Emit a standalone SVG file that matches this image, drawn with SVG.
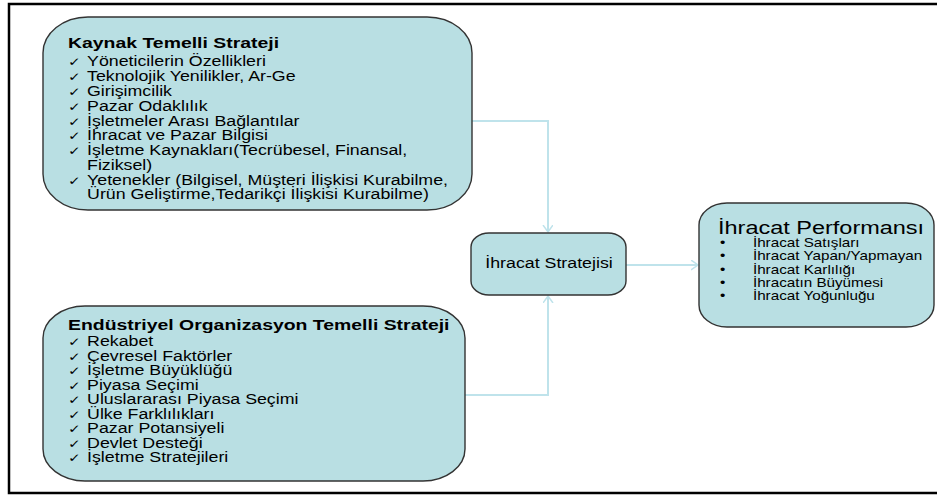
<svg xmlns="http://www.w3.org/2000/svg" width="937" height="495" viewBox="0 0 937 495">
<style>
.box{fill:#b9dfe3;stroke:#333;stroke-width:1.4}
.conn{fill:none;stroke:#bfe3eb;stroke-width:2}
text{font-family:"Liberation Sans","DejaVu Sans",Arial,sans-serif;fill:#000}
.t{font-size:14px}
.b{font-size:15.3px;font-weight:bold}
.ck{font-family:"DejaVu Sans",sans-serif;font-size:12px}
.s{font-size:12px}
.h{font-size:18.5px}
</style>
<defs>
<marker id="ar" markerUnits="userSpaceOnUse" markerWidth="12" markerHeight="12" refX="7" refY="5" orient="auto">
<path d="M0,0 L7,5 L0,10" fill="none" stroke="#bfe3eb" stroke-width="1.5"/>
</marker>
</defs>
<rect width="937" height="495" fill="#fff"/>
<path d="M945 4 H9 V493 H945" fill="none" stroke="#000" stroke-width="2.5"/>
<g id="connectors">
<path class="conn" d="M472 121 H548 V232" marker-end="url(#ar)"/>
<path class="conn" d="M465 395 H548 V296" marker-end="url(#ar)"/>
<path class="conn" d="M626 265 H698" marker-end="url(#ar)"/>
</g>
<g id="kaynak">
<rect class="box" x="43" y="17" width="429" height="193" rx="45" ry="36"/>
<g transform="translate(68,0) scale(1.27,1)">
<text class="b" x="0" y="48">Kaynak Temelli Strateji</text>
<text class="ck" x="0" y="66.5">✓</text><text class="t" x="15" y="66.5">Yöneticilerin Özellikleri</text>
<text class="ck" x="0" y="81.3">✓</text><text class="t" x="15" y="81.3">Teknolojik Yenilikler, Ar-Ge</text>
<text class="ck" x="0" y="96.1">✓</text><text class="t" x="15" y="96.1">Girişimcilik</text>
<text class="ck" x="0" y="110.8">✓</text><text class="t" x="15" y="110.8">Pazar Odaklılık</text>
<text class="ck" x="0" y="125.6">✓</text><text class="t" x="15" y="125.6">İşletmeler Arası Bağlantılar</text>
<text class="ck" x="0" y="140.4">✓</text><text class="t" x="15" y="140.4">İhracat ve Pazar Bilgisi</text>
<text class="ck" x="0" y="155.2">✓</text><text class="t" x="15" y="155.2">İşletme Kaynakları(Tecrübesel, Finansal,</text>
<text class="t" x="15" y="169.9">Fiziksel)</text>
<text class="ck" x="0" y="184.7">✓</text><text class="t" x="15" y="184.7">Yetenekler (Bilgisel, Müşteri İlişkisi Kurabilme,</text>
<text class="t" x="15" y="199.5">Ürün Geliştirme,Tedarikçi İlişkisi Kurabilme)</text>
</g>
</g>
<g id="endustriyel">
<rect class="box" x="43" y="306" width="422" height="175" rx="42" ry="32"/>
<g transform="translate(68,0) scale(1.27,1)">
<text class="b" x="0" y="330">Endüstriyel Organizasyon Temelli Strateji</text>
<text class="ck" x="0" y="346.5">✓</text><text class="t" x="15" y="346.5">Rekabet</text>
<text class="ck" x="0" y="361">✓</text><text class="t" x="15" y="361">Çevresel Faktörler</text>
<text class="ck" x="0" y="375.5">✓</text><text class="t" x="15" y="375.5">İşletme Büyüklüğü</text>
<text class="ck" x="0" y="390">✓</text><text class="t" x="15" y="390">Piyasa Seçimi</text>
<text class="ck" x="0" y="404.5">✓</text><text class="t" x="15" y="404.5">Uluslararası Piyasa Seçimi</text>
<text class="ck" x="0" y="419">✓</text><text class="t" x="15" y="419">Ülke Farklılıkları</text>
<text class="ck" x="0" y="433.5">✓</text><text class="t" x="15" y="433.5">Pazar Potansiyeli</text>
<text class="ck" x="0" y="448">✓</text><text class="t" x="15" y="448">Devlet Desteği</text>
<text class="ck" x="0" y="462.5">✓</text><text class="t" x="15" y="462.5">İşletme Stratejileri</text>
</g>
</g>
<g id="strateji">
<rect class="box" x="471" y="233" width="155" height="62" rx="18" ry="14"/>
<g transform="translate(549,0) scale(1.27,1)">
<text class="t" x="0" y="268" text-anchor="middle">İhracat Stratejisi</text>
</g>
</g>
<g id="performans">
<rect class="box" x="699" y="203" width="235" height="124" rx="28" ry="22"/>
<g transform="translate(718,0) scale(1.27,1)">
<text class="h" x="0" y="234">İhracat Performansı</text>
<text class="s" x="1.5" y="247">•</text><text class="s" x="27.5" y="247">İhracat Satışları</text>
<text class="s" x="1.5" y="260.3">•</text><text class="s" x="27.5" y="260.3">İhracat Yapan/Yapmayan</text>
<text class="s" x="1.5" y="273.6">•</text><text class="s" x="27.5" y="273.6">İhracat Karlılığı</text>
<text class="s" x="1.5" y="286.9">•</text><text class="s" x="27.5" y="286.9">İhracatın Büyümesi</text>
<text class="s" x="1.5" y="300.2">•</text><text class="s" x="27.5" y="300.2">İhracat Yoğunluğu</text>
</g>
</g>
</svg>
